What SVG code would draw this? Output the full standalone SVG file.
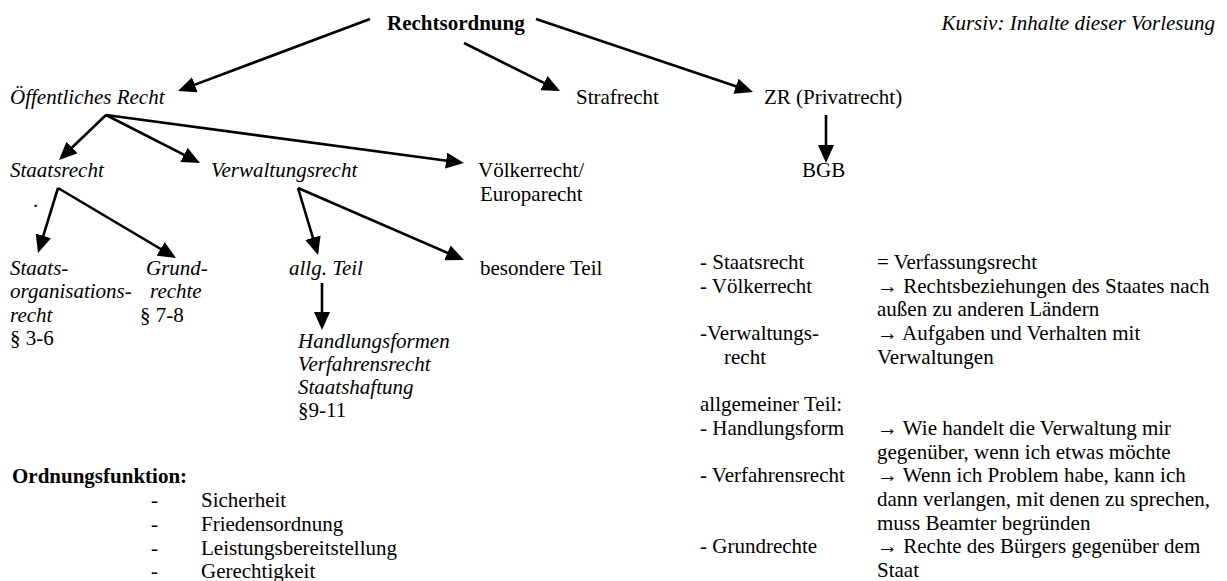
<svg xmlns="http://www.w3.org/2000/svg" width="1227" height="581" viewBox="0 0 1227 581">
<style>
text{font-family:"Liberation Serif","Tinos","DejaVu Serif","Noto Serif",serif;font-size:21px;fill:#000}
.i{font-style:italic}
.b{font-weight:bold}
.c line{stroke:#000;stroke-width:2.6;marker-end:url(#ah)}
</style>
<defs>
<marker id="ah" markerUnits="userSpaceOnUse" markerWidth="20" markerHeight="16" viewBox="0 0 20 16" refX="14" refY="8" orient="auto">
<path d="M0,0 L18,8 L0,16 Z" fill="#000"/>
</marker>
</defs>
<rect width="1227" height="581" fill="#fff"/>
<g class="c" id="connectors">
<line x1="370" y1="19" x2="181.7" y2="89.6"/>
<line x1="464" y1="43" x2="556.4" y2="89.2"/>
<line x1="536" y1="19" x2="749.2" y2="90.7"/>
<line x1="826" y1="115" x2="826" y2="159"/>
<line x1="106" y1="115" x2="61.9" y2="157.2"/>
<line x1="106" y1="115" x2="196.4" y2="161.2"/>
<line x1="106" y1="115" x2="460" y2="162.5"/>
<line x1="58" y1="188" x2="39.2" y2="249.2"/>
<line x1="58" y1="188" x2="172.6" y2="256"/>
<line x1="298" y1="188" x2="316.9" y2="251.2"/>
<line x1="298" y1="188" x2="460.3" y2="258.4"/>
<line x1="322" y1="283" x2="322" y2="326"/>
</g>
<g id="rechtsordnung"><text class="b" x="387" y="30">Rechtsordnung</text></g>
<g id="legende"><text class="i" x="1215" y="30" text-anchor="end">Kursiv: Inhalte dieser Vorlesung</text></g>
<g id="oeffentliches-recht"><text class="i" x="10" y="104">Öffentliches Recht</text></g>
<g id="strafrecht"><text x="576" y="104">Strafrecht</text></g>
<g id="zr"><text x="764" y="104">ZR (Privatrecht)</text></g>
<g id="bgb"><text x="802" y="177">BGB</text></g>
<g id="staatsrecht"><text class="i" x="10" y="177">Staatsrecht</text><text x="33" y="207">.</text></g>
<g id="verwaltungsrecht"><text class="i" x="211" y="177">Verwaltungsrecht</text></g>
<g id="voelkerrecht"><text x="478" y="177">Völkerrecht/</text><text x="480" y="201">Europarecht</text></g>
<g id="staatsorganisationsrecht">
<text class="i" x="10" y="275">Staats-</text>
<text class="i" x="10" y="298">organisations-</text>
<text class="i" x="10" y="322">recht</text>
<text x="10" y="345">§ 3-6</text>
</g>
<g id="grundrechte">
<text class="i" x="146" y="275">Grund-</text>
<text class="i" x="150" y="298">rechte</text>
<text x="140" y="322">§ 7-8</text>
</g>
<g id="allg-teil"><text class="i" x="289" y="275">allg. Teil</text></g>
<g id="besondere-teil"><text x="480" y="275">besondere Teil</text></g>
<g id="handlungsformen">
<text class="i" x="298" y="348">Handlungsformen</text>
<text class="i" x="298" y="371">Verfahrensrecht</text>
<text class="i" x="298" y="394">Staatshaftung</text>
<text x="298" y="417">§9-11</text>
</g>
<g id="ordnungsfunktion">
<text class="b" x="12" y="483">Ordnungsfunktion:</text>
<text x="151" y="507">-</text><text x="201" y="507">Sicherheit</text>
<text x="151" y="531">-</text><text x="201" y="531">Friedensordnung</text>
<text x="151" y="555">-</text><text x="201" y="555">Leistungsbereitstellung</text>
<text x="151" y="578">-</text><text x="201" y="578">Gerechtigkeit</text>
</g>
<g id="erlaeuterungen">
<text x="700" y="269">- Staatsrecht</text><text x="877" y="269">= Verfassungsrecht</text>
<text x="700" y="292.7">- Völkerrecht</text><text x="877" y="292.7">→ Rechtsbeziehungen des Staates nach</text>
<text x="877" y="316.4">außen zu anderen Ländern</text>
<text x="700" y="340">-Verwaltungs-</text><text x="877" y="340">→ Aufgaben und Verhalten mit</text>
<text x="724" y="363.8">recht</text><text x="877" y="363.8">Verwaltungen</text>
<text x="700" y="411">allgemeiner Teil:</text>
<text x="700" y="434.9">- Handlungsform</text><text x="877" y="434.9">→ Wie handelt die Verwaltung mir</text>
<text x="877" y="458.6">gegenüber, wenn ich etwas möchte</text>
<text x="700" y="482.3">- Verfahrensrecht</text><text x="877" y="482.3">→ Wenn ich Problem habe, kann ich</text>
<text x="877" y="506">dann verlangen, mit denen zu sprechen,</text>
<text x="877" y="529.7">muss Beamter begründen</text>
<text x="700" y="553.4">- Grundrechte</text><text x="877" y="553.4">→ Rechte des Bürgers gegenüber dem</text>
<text x="877" y="577">Staat</text>
</g>
</svg>
